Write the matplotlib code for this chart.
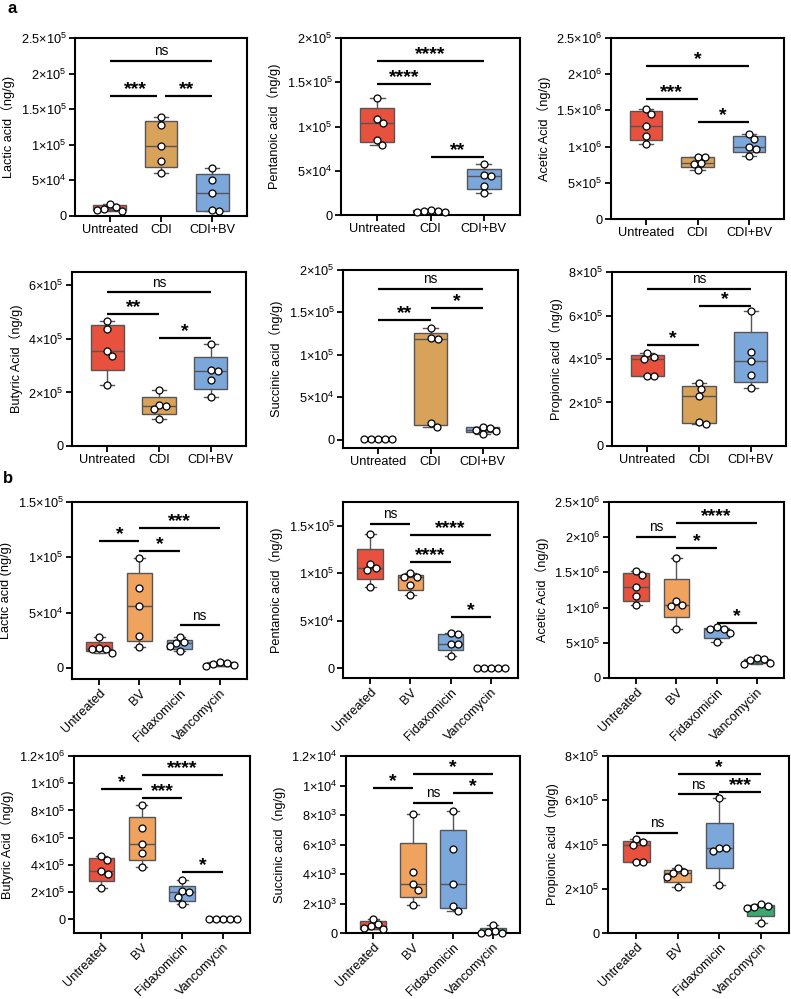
#!/usr/bin/env python3
"""Short-chain fatty acid box plots: panel a (CDI model) and panel b (treatments)."""

from __future__ import annotations

import matplotlib

matplotlib.use("Agg")
import matplotlib.pyplot as plt
import numpy as np
from matplotlib import cbook
from matplotlib.ticker import FixedLocator, FuncFormatter

plt.rcParams["font.family"] = ["Liberation Sans", "Noto Sans CJK SC", "DejaVu Sans"]

FIG_W_PX, FIG_H_PX, DPI = 791, 999, 100

GROUPS_A = ["Untreated", "CDI", "CDI+BV"]
GROUPS_B = ["Untreated", "BV", "Fidaxomicin", "Vancomycin"]
COLORS_A = ["#E8513D", "#D8A25A", "#7CA7DB"]
COLORS_B = ["#E8513D", "#F0A35E", "#7CA7DB", "#3BA870"]

# ---- panel a values (ng/g), one list per group ----
LACTIC_A = [
    [1.7e4, 1.3e4, 1.05e4, 0.9e4, 0.75e4],
    [1.39e5, 1.28e5, 0.99e5, 0.77e5, 0.61e5],
    [0.68e5, 0.51e5, 0.32e5, 0.085e5, 0.065e5],
]
PENTANOIC_A = [
    [1.32e5, 1.09e5, 1.045e5, 0.85e5, 0.79e5],
    [5.2e3, 5.0e3, 4.5e3, 3.2e3, 3.0e3],
    [0.58e5, 0.45e5, 0.44e5, 0.33e5, 0.25e5],
]
ACETIC_A = [
    [1.52e6, 1.45e6, 1.28e6, 1.14e6, 1.03e6],
    [0.86e6, 0.85e6, 0.77e6, 0.76e6, 0.675e6],
    [1.18e6, 1.11e6, 1.0e6, 0.97e6, 0.87e6],
]
BUTYRIC_A = [
    [4.67e5, 4.36e5, 3.56e5, 3.37e5, 2.29e5],
    [2.1e5, 1.54e5, 1.49e5, 1.37e5, 1.0e5],
    [3.82e5, 2.84e5, 2.81e5, 2.46e5, 1.82e5],
]
SUCCINIC_A = [
    [300, 250, 200, 150, 100],
    [1.32e5, 1.2e5, 1.19e5, 0.197e5, 0.146e5],
    [1.5e4, 1.4e4, 1.1e4, 1.06e4, 0.63e4],
]
PROPIONIC_A = [
    [4.26e5, 4.1e5, 3.98e5, 3.22e5, 3.2e5],
    [2.91e5, 2.6e5, 2.29e5, 1.11e5, 1.02e5],
    [6.2e5, 4.31e5, 3.92e5, 3.26e5, 2.65e5],
]

# ---- panel b values (ng/g) ----
LACTIC_B = [
    [2.8e4, 1.84e4, 1.75e4, 1.69e4, 1.39e4],
    [9.9e4, 7.2e4, 5.6e4, 2.9e4, 1.9e4],
    [2.8e4, 2.3e4, 2.25e4, 1.95e4, 1.5e4],
    [5.4e3, 4.5e3, 3.3e3, 2.4e3, 1.5e3],
]
PENTANOIC_B = [
    [1.41e5, 1.1e5, 1.06e5, 1.035e5, 0.855e5],
    [1.0e5, 0.965e5, 0.96e5, 0.88e5, 0.77e5],
    [3.7e4, 3.65e4, 2.6e4, 2.55e4, 1.3e4],
    [300, 250, 200, 150, 100],
]
ACETIC_B = [
    [1.52e6, 1.46e6, 1.29e6, 1.16e6, 1.04e6],
    [1.71e6, 1.09e6, 1.03e6, 1.02e6, 0.70e6],
    [0.72e6, 0.70e6, 0.69e6, 0.64e6, 0.505e6],
    [0.28e6, 0.265e6, 0.26e6, 0.22e6, 0.20e6],
]
BUTYRIC_B = [
    [4.66e5, 4.37e5, 3.54e5, 3.37e5, 2.32e5],
    [8.41e5, 6.68e5, 5.51e5, 4.85e5, 3.83e5],
    [2.88e5, 2.05e5, 2.0e5, 1.62e5, 1.12e5],
    [2e3, 1.5e3, 1e3, 1e3, 5e2],
]
SUCCINIC_B = [
    [950, 611, 450, 340, 270],
    [8.1e3, 4.12e3, 3.3e3, 2.94e3, 1.9e3],
    [8.24e3, 5.68e3, 3.33e3, 1.86e3, 1.5e3],
    [570, 110, 50, 20, 0],
]
PROPIONIC_B = [
    [4.26e5, 4.1e5, 3.98e5, 3.22e5, 3.2e5],
    [2.94e5, 2.75e5, 2.69e5, 2.54e5, 2.08e5],
    [6.08e5, 3.85e5, 3.82e5, 3.7e5, 2.19e5],
    [1.33e5, 1.24e5, 1.18e5, 1.13e5, 0.45e5],
]

# significance bars: (group i, group j, bar height, label)
SIG_LACTIC_A = [(0, 2, 2.18e5, "ns"), (0, 1, 1.69e5, "***"), (1, 2, 1.69e5, "**")]
SIG_PENTANOIC_A = [(0, 2, 1.74e5, "****"), (0, 1, 1.48e5, "****"), (1, 2, 0.66e5, "**")]
SIG_ACETIC_A = [(0, 2, 2.11e6, "*"), (0, 1, 1.655e6, "***"), (1, 2, 1.34e6, "*")]
SIG_BUTYRIC_A = [(0, 2, 5.74e5, "ns"), (0, 1, 4.94e5, "**"), (1, 2, 4.04e5, "*")]
SIG_SUCCINIC_A = [(0, 2, 1.78e5, "ns"), (1, 2, 1.55e5, "*"), (0, 1, 1.41e5, "**")]
SIG_PROPIONIC_A = [(0, 2, 7.23e5, "ns"), (1, 2, 6.45e5, "*"), (0, 1, 4.66e5, "*")]
SIG_LACTIC_B = [(1, 3, 1.265e5, "***"), (0, 1, 1.15e5, "*"), (1, 2, 1.06e5, "*"), (2, 3, 3.85e4, "ns")]
SIG_PENTANOIC_B = [(0, 1, 1.52e5, "ns"), (1, 3, 1.40e5, "****"), (1, 2, 1.12e5, "****"), (2, 3, 5.37e4, "*")]
SIG_ACETIC_B = [(1, 3, 2.2e6, "****"), (0, 1, 2.0e6, "ns"), (1, 2, 1.85e6, "*"), (2, 3, 0.78e6, "*")]
SIG_BUTYRIC_B = [(1, 3, 1.06e6, "****"), (0, 1, 9.6e5, "*"), (1, 2, 8.93e5, "***"), (2, 3, 3.46e5, "*")]
SIG_SUCCINIC_B = [(1, 3, 1.075e4, "*"), (0, 1, 9.8e3, "*"), (2, 3, 9.46e3, "*"), (1, 2, 8.83e3, "ns")]
SIG_PROPIONIC_B = [(1, 3, 7.2e5, "*"), (2, 3, 6.38e5, "***"), (1, 2, 6.26e5, "ns"), (0, 1, 4.53e5, "ns")]

# (values, significance, y label, y limits, tick step)
PANELS_A = [
    (LACTIC_A, SIG_LACTIC_A, "Lactic acid（ng/g)", (0, 2.5e5), 5e4),
    (PENTANOIC_A, SIG_PENTANOIC_A, "Pentanoic acid（ng/g)", (0, 2e5), 5e4),
    (ACETIC_A, SIG_ACETIC_A, "Acetic Acid（ng/g)", (0, 2.5e6), 5e5),
    (BUTYRIC_A, SIG_BUTYRIC_A, "Butyric Acid（ng/g)", (0, 6.5e5), 2e5),
    (SUCCINIC_A, SIG_SUCCINIC_A, "Succinic acid（ng/g)", (-1e4, 2e5), 5e4),
    (PROPIONIC_A, SIG_PROPIONIC_A, "Propionic acid（ng/g)", (0, 8e5), 2e5),
]
PANELS_B = [
    (LACTIC_B, SIG_LACTIC_B, "Lactic acid (ng/g)", (-1e4, 1.5e5), 5e4),
    (PENTANOIC_B, SIG_PENTANOIC_B, "Pentanoic acid（ng/g)", (-1e4, 1.75e5), 5e4),
    (ACETIC_B, SIG_ACETIC_B, "Acetic Acid（ng/g)", (0, 2.5e6), 5e5),
    (BUTYRIC_B, SIG_BUTYRIC_B, "Butyric Acid（ng/g)", (-1e5, 1.2e6), 2e5),
    (SUCCINIC_B, SIG_SUCCINIC_B, "Succinic acid（ng/g)", (0, 1.2e4), 2e3),
    (PROPIONIC_B, SIG_PROPIONIC_B, "Propionic acid（ng/g)", (0, 8e5), 2e5),
]

# axes boxes in pixels: (left, top, right, bottom)
RECTS_A = [
    (75, 38, 247, 216), (341, 38, 520, 215), (611, 38, 784, 219),
    (72, 272, 246, 446), (343, 270, 518, 448), (612, 272, 786, 446),
]
RECTS_B = [
    (72, 502, 247, 679), (343, 502, 518, 678), (609, 502, 784, 678),
    (74, 756, 250, 933), (346, 756, 520, 933), (608, 756, 789, 933),
]

EDGE = "#555555"
TICK_FS = 9.2
DOT_DIAM_PX = 7.0


def sci_label(v: float, _pos=None) -> str:
    if abs(v) < 1e-12:
        return "0"
    exp = int(np.floor(np.log10(abs(v)) + 1e-9))
    mant = v / 10 ** exp
    mant_s = f"{mant:g}"
    return f"{mant_s}×10$^{{\\mathdefault{{{exp}}}}}$"


def swarm_x(ax, x: float, ys: list[float]) -> np.ndarray:
    """Spread points sideways (in pixels) so circles do not overlap."""
    pts = ax.transData.transform(np.column_stack([np.full(len(ys), x), ys]))
    ppu = ax.transData.transform((1, 0))[0] - ax.transData.transform((0, 0))[0]
    order = np.argsort(ys)[::-1]
    placed: list[tuple[float, float]] = []
    xs = np.zeros(len(ys))
    cands = [0.0]
    for k in range(1, 200):
        cands += [k * 0.5, -k * 0.5]
    for idx in order:
        py = pts[idx, 1]
        for off in cands:
            if all(np.hypot(off - qx, py - qy) >= DOT_DIAM_PX for qx, qy in placed):
                break
        placed.append((off, py))
        xs[idx] = x + off / ppu
    return xs


def draw_panel(ax, groups, colors, values, sig, ylabel, ylim, ystep, rotate):
    n = len(groups)
    pos = np.arange(n)
    ax.set_xlim(-0.68, n - 1 + 0.68)
    ax.set_ylim(*ylim)

    stats = []
    for v in values:
        s = cbook.boxplot_stats(np.asarray(v), whis=(0, 100))[0]
        s["q1"], s["med"], s["q3"] = np.percentile(v, [25, 50, 75], method="weibull")
        stats.append(s)
    bp = ax.bxp(
        stats, positions=pos, widths=0.64, capwidths=0.28, patch_artist=True,
        showfliers=False,
        boxprops=dict(edgecolor=EDGE, linewidth=1.0),
        medianprops=dict(color=EDGE, linewidth=1.0),
        whiskerprops=dict(color=EDGE, linewidth=1.0),
        capprops=dict(color=EDGE, linewidth=1.0),
    )
    for patch, c in zip(bp["boxes"], colors):
        patch.set_facecolor(c)

    for p, v in zip(pos, values):
        ax.plot(swarm_x(ax, p, v), v, "o", ms=5, mfc="white", mec="black",
                mew=0.9, zorder=5, clip_on=False)

    for i, j, y, lab in sig:
        x0, x1 = float(i), float(j)
        others = [(a, b) for a, b, yy, _ in sig if yy == y and (a, b) != (i, j)]
        if any(a == j for a, _ in others):
            x1 -= 0.08
        if any(b == i for _, b in others):
            x0 += 0.08
        ax.plot([x0, x1], [y, y], color="black", lw=1.6, solid_capstyle="butt",
                clip_on=False)
        if lab == "ns":
            ax.annotate(lab, xy=((i + j) / 2, y), xytext=(0, 2), textcoords="offset points",
                        ha="center", va="bottom", fontsize=9.8)
        else:
            ax.annotate(lab, xy=((i + j) / 2, y), xytext=(0, -1.5), textcoords="offset points",
                        ha="center", va="bottom", fontsize=14, fontweight="bold")

    ticks = np.arange(0, ylim[1] * 1.0001, ystep)
    ax.yaxis.set_major_locator(FixedLocator(ticks))
    ax.yaxis.set_major_formatter(FuncFormatter(sci_label))
    ax.set_xticks(pos)
    if rotate:
        ax.set_xticklabels(groups, rotation=45, ha="right", rotation_mode="anchor")
    else:
        ax.set_xticklabels(groups)
    ax.set_ylabel(ylabel, fontsize=TICK_FS, labelpad=4)
    ax.tick_params(direction="out", length=4, width=1.3, labelsize=TICK_FS, pad=2)
    for sp in ax.spines.values():
        sp.set_linewidth(1.5)


def add_axes_px(fig, rect):
    left, top, right, bottom = rect
    return fig.add_axes([left / FIG_W_PX, 1 - bottom / FIG_H_PX,
                         (right - left) / FIG_W_PX, (bottom - top) / FIG_H_PX])


def main() -> None:
    fig = plt.figure(figsize=(FIG_W_PX / DPI, FIG_H_PX / DPI), dpi=DPI)

    for rect, (vals, sig, lab, ylim, step) in zip(RECTS_A, PANELS_A):
        ax = add_axes_px(fig, rect)
        draw_panel(ax, GROUPS_A, COLORS_A, vals, sig, lab, ylim, step, rotate=False)
    for rect, (vals, sig, lab, ylim, step) in zip(RECTS_B, PANELS_B):
        ax = add_axes_px(fig, rect)
        draw_panel(ax, GROUPS_B, COLORS_B, vals, sig, lab, ylim, step, rotate=True)

    fig.text(7 / FIG_W_PX, 1 - 13 / FIG_H_PX, "a", fontsize=12, fontweight="bold",
             va="baseline")
    fig.text(3 / FIG_W_PX, 1 - 483 / FIG_H_PX, "b", fontsize=12, fontweight="bold",
             va="baseline")

    fig.savefig("out.png", dpi=DPI)
    plt.close(fig)


if __name__ == "__main__":
    main()
